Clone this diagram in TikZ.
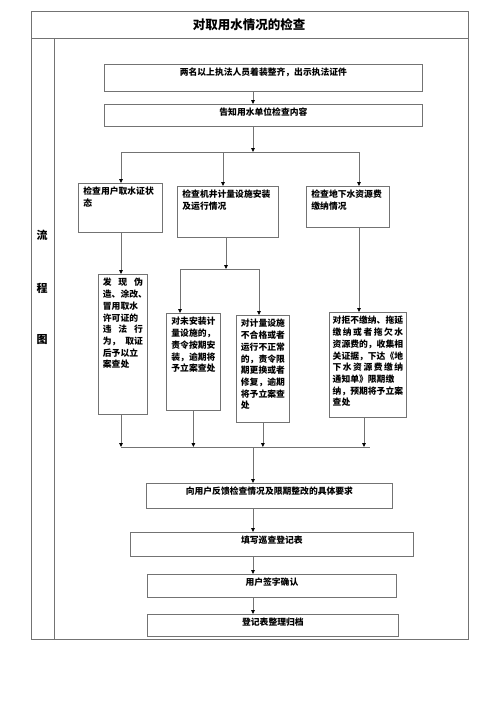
\documentclass[tikz,border=0pt]{standalone}
\usepackage{fontspec}
\setmainfont{Noto Sans CJK SC}
\usetikzlibrary{arrows.meta}
\tikzstyle{cb} = [rectangle,
                      draw=black!55,
                      line width=0.8pt,
                      anchor=north west,
                      inner sep=3pt,
                      font=\fontsize{8.8}{11.7}\selectfont\bfseries,
                      text centered,
                      text height=8.5pt]
\tikzstyle{lb} = [rectangle,
                      draw=black!55,
                      line width=0.8pt,
                      anchor=north west,
                      inner ysep=3pt,
                      inner xsep=5pt,
                      font=\fontsize{8.8}{11.7}\selectfont\bfseries,
                      align=left,
                      text height=8.5pt]
\tikzstyle{ln} = [draw=black!55, line width=0.8pt]
\tikzstyle{ar} = [ln, -{Triangle[length=4pt,width=3.6pt,color=black]}]

\begin{document}
\begin{tikzpicture}[x=1pt,y=-1pt]
     \useasboundingbox (0,0) rectangle (500,707);
     % frame
     \draw[ln] (31,11) rectangle (468,639);
     \draw[ln] (31,38) -- (468,38);
     \draw[ln] (54,38) -- (54,639);
     \node [font=\fontsize{12.5}{14}\selectfont\bfseries] (title) at (249,25) {对取用水情况的检查};
     \foreach \t/\y [count=\i] in {流/235,程/288,图/340}
     	\node [font=\fontsize{11}{13}\selectfont\bfseries] (side\i) at (42,\y) {\t};
     % boxes
     \node [cb, minimum width=318pt, text depth=12.5pt] (b1) at (104,64) {两名以上执法人员着装整齐，出示执法证件};
     \node [cb, minimum width=318pt, text depth=7.5pt] (b2) at (104,104) {告知用水单位检查内容};
     \node [lb, text width=74pt, text depth=34.5pt] (b3) at (78,183) {检查用户取水证状\\态};
     \node [lb, text width=91pt, text depth=36.5pt] (b4) at (177,186) {检查机井计量设施安装\\及运行情况};
     \node [lb, text width=73pt, text depth=26.5pt] (b5) at (306,186) {检查地下水资源费\\缴纳情况};
     \node [lb, inner xsep=4.5pt, text width=40pt, text depth=125.5pt] (b6) at (98,274)
     	{发\hfill 现\hfill 伪\\造、涂改、\\冒用取水\\许可证的\\违\hfill 法\hfill 行\\为，\hfill 取证\\后予以立\\案查处};
     \node [lb, text width=44pt, text depth=82.5pt] (b7) at (166,313)
     	{对未安装计\\量设施的，\\责令按期安\\装，逾期将\\予立案查处};
     \node [lb, inner xsep=4.5pt, text width=44pt, text depth=92.5pt] (b8) at (236,315)
     	{对计量设施\\不合格或者\\运行不正常\\的，责令限\\期更换或者\\修复，逾期\\将予立案查\\处};
     \node [lb, inner xsep=3.3pt, text width=70.4pt, text depth=90.5pt] (b9) at (329,312)
     	{对拒不缴纳、拖延\\缴\hfill 纳\hfill 或\hfill 者\hfill 拖\hfill 欠\hfill 水\\资源费的，收集相\\关证据，下达《地\\下\hfill 水\hfill 资\hfill 源\hfill 费\hfill 缴\hfill 纳\\通知单》限期缴\\纳，预期将予立案\\查处};
     \node [cb, minimum width=246pt, text depth=10.5pt] (b10) at (146,483) {向用户反馈检查情况及限期整改的具体要求};
     \node [cb, minimum width=283pt, text depth=9.5pt] (b11) at (130,532) {填写巡查登记表};
     \node [cb, minimum width=249pt, text depth=8.5pt] (b12) at (147,574) {用户签字确认};
     \node [cb, minimum width=251pt, text depth=7.5pt] (b13) at (147,614) {登记表整理归档};
     % junctions
     \coordinate (sp) at (253,152);
     \coordinate (sl) at (121,152);
     \coordinate (sm) at (223,152);
     \coordinate (sr) at (359,152);
     \coordinate (mm) at (226,269);
     \coordinate (ml) at (180,269);
     \coordinate (mr) at (259,269);
     \coordinate (cl) at (121,447);
     \coordinate (c9) at (364,447);
     \coordinate (cr) at (370,447);
     \coordinate (cc) at (253,447);
     % connectors
     \draw[ar] (b1.south -| sp) -- (b2.north -| sp);
     \draw[ar] (b2.south -| sp) -- (sp);
     \draw[ln] (sl) -- (sr);
     \draw[ar] (sl) -- (sl |- b3.north);
     \draw[ar] (sm) -- (sm |- b4.north);
     \draw[ar] (sr) -- (sr |- b5.north);
     \draw[ar] (sl |- b3.south) -- (sl |- b6.north);
     \draw[ar] (mm |- b4.south) -- (mm);
     \draw[ln] (ml) -- (mr);
     \draw[ar] (ml) -- (ml |- b7.north);
     \draw[ar] (mr) -- (mr |- b8.north);
     \draw[ar] (sr |- b5.south) -- (sr |- b9.north);
     \draw[ln] (cl) -- (cr);
     \draw[ar] (cl |- b6.south) -- (cl);
     \draw[ar] (b7.south) -- (b7.south |- cl);
     \draw[ar] (b8.south) -- (b8.south |- cl);
     \draw[ar] (c9 |- b9.south) -- (c9);
     \draw[ar] (cc) -- (cc |- b10.north);
     \draw[ar] (b10.south -| cc) -- (b11.north -| cc);
     \draw[ar] (b11.south -| cc) -- (b12.north -| cc);
     \draw[ar] (b12.south -| cc) -- (b13.north -| cc);
\end{tikzpicture}
\end{document}
